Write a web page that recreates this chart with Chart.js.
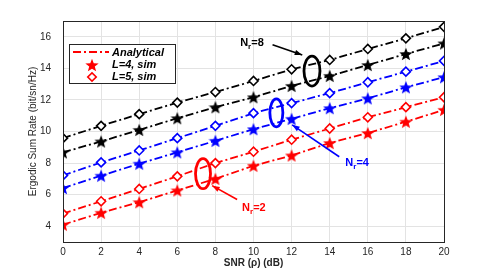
<!DOCTYPE html>
<html>
<head>
<meta charset="utf-8">
<script src="https://cdn.jsdelivr.net/npm/chart.js@4.4.1/dist/chart.umd.min.js"></script>
<style>
  html, body { margin: 0; padding: 0; background: #fff; }
  canvas { display: block; }
</style>
</head>
<body>
<canvas id="rateChart" width="491" height="273"></canvas>
<script>
// data
const snr = [0, 2, 4, 6, 8, 10, 12, 14, 16, 18, 20];
const yTicks = [4, 6, 8, 10, 12, 14, 16];

const nr2L4 = [4.1, 4.85, 5.52, 6.27, 7.0, 7.83, 8.48, 9.27, 9.9, 10.62, 11.37];
const nr2L5 = [4.8, 5.58, 6.36, 7.16, 8.0, 8.72, 9.48, 10.19, 10.9, 11.54, 12.17];
const nr4L4 = [6.42, 7.2, 7.96, 8.68, 9.41, 10.15, 10.8, 11.48, 12.1, 12.8, 13.44];
const nr4L5 = [7.22, 8.04, 8.8, 9.58, 10.36, 11.16, 11.8, 12.43, 13.12, 13.79, 14.47];
const nr8L4 = [8.68, 9.37, 10.1, 10.84, 11.54, 12.17, 12.89, 13.52, 14.21, 14.91, 15.58];
const nr8L5 = [9.58, 10.36, 11.1, 11.83, 12.5, 13.2, 13.94, 14.53, 15.23, 15.9, 16.63];

const RED = '#ff0000', BLUE = '#0000ff', BLACK = '#000000';
const DASHDOT = [8, 3, 2, 3];
const FONT = '"Liberation Sans", Arial, sans-serif';

// filled five point star as point image
function makeStar(color, size) {
    const c = document.createElement('canvas');
    c.width = size; c.height = size;
    const g = c.getContext('2d');
    const cx = size / 2, cy = size / 2 + 0.7, R = size / 2, r = R * 0.42;
    g.beginPath();
    for (let i = 0; i < 10; i++) {
        const rad = i % 2 ? r : R;
        const a = -Math.PI / 2 + i * Math.PI / 5;
        g.lineTo(cx + rad * Math.cos(a), cy + rad * Math.sin(a));
    }
    g.closePath();
    g.fillStyle = color;
    g.fill();
    return c;
}

function starSet(data, color) {
    return {
        data: snr.map((x, i) => ({ x, y: data[i] })),
        borderColor: color, borderWidth: 1.8, borderDash: DASHDOT,
        pointStyle: makeStar(color, 14), pointRadius: 7,
        fill: false, tension: 0
    };
}
function diamondSet(data, color) {
    return {
        data: snr.map((x, i) => ({ x, y: data[i] })),
        borderColor: color, borderWidth: 1.8, borderDash: DASHDOT,
        pointStyle: 'rectRot', pointRadius: 4.5, pointBorderWidth: 1.6,
        pointBackgroundColor: '#fff', pointBorderColor: color,
        fill: false, tension: 0
    };
}

// ellipses, arrows, labels and legend
const notes = {
    id: 'notes',
    afterDraw(chart) {
        const { ctx, chartArea: a, scales: { x, y } } = chart;
        ctx.save();
        // axes box
        ctx.strokeStyle = '#262626';
        ctx.lineWidth = 1;
        ctx.strokeRect(a.left + 0.5, a.top + 0.5, a.right - a.left, a.bottom - a.top);

        function ellipse(dx, dy, rx, ry, color) {
            ctx.beginPath();
            ctx.ellipse(x.getPixelForValue(dx), y.getPixelForValue(dy), rx, ry, 0, 0, Math.PI * 2);
            ctx.strokeStyle = color; ctx.lineWidth = 2.8; ctx.setLineDash([]);
            ctx.stroke();
        }
        function arrow(x1, y1, x2, y2, color) {
            const px1 = x.getPixelForValue(x1), py1 = y.getPixelForValue(y1);
            const px2 = x.getPixelForValue(x2), py2 = y.getPixelForValue(y2);
            ctx.strokeStyle = color; ctx.fillStyle = color; ctx.lineWidth = 1.6;
            ctx.beginPath(); ctx.moveTo(px1, py1); ctx.lineTo(px2, py2); ctx.stroke();
            const ang = Math.atan2(py2 - py1, px2 - px1);
            ctx.beginPath();
            ctx.moveTo(px2, py2);
            ctx.lineTo(px2 - 8 * Math.cos(ang - 0.35), py2 - 8 * Math.sin(ang - 0.35));
            ctx.lineTo(px2 - 8 * Math.cos(ang + 0.35), py2 - 8 * Math.sin(ang + 0.35));
            ctx.closePath(); ctx.fill();
        }
        function nrLabel(dx, dy, n, color) {
            let px = x.getPixelForValue(dx), py = y.getPixelForValue(dy);
            ctx.fillStyle = color; ctx.textBaseline = 'middle'; ctx.textAlign = 'left';
            ctx.font = 'bold 11px ' + FONT;
            ctx.fillText('N', px, py);
            px += ctx.measureText('N').width;
            ctx.font = 'bold 8px ' + FONT;
            ctx.fillText('r', px, py + 4);
            px += ctx.measureText('r').width;
            ctx.font = 'bold 11px ' + FONT;
            ctx.fillText('=' + n, px, py);
        }

        ellipse(13.07, 13.83, 8, 15, BLACK);
        arrow(11.0, 15.5, 12.56, 14.85, BLACK);
        nrLabel(9.3, 15.6, 8, BLACK);

        ellipse(11.2, 11.18, 6.5, 14, BLUE);
        arrow(14.5, 8.4, 12.03, 10.42, BLUE);
        nrLabel(14.82, 8.0, 4, BLUE);

        ellipse(7.35, 7.33, 7.5, 15, RED);
        arrow(9.14, 5.69, 7.83, 6.57, RED);
        nrLabel(9.4, 5.15, 2, RED);

        // legend box
        const lx = 69, ly = 44, lw = 106, lh = 39;
        ctx.fillStyle = '#fff';
        ctx.fillRect(lx, ly, lw, lh);
        ctx.strokeStyle = '#262626'; ctx.lineWidth = 1;
        ctx.strokeRect(lx + 0.5, ly + 0.5, lw, lh);
        ctx.strokeStyle = RED; ctx.lineWidth = 1.8; ctx.setLineDash(DASHDOT);
        ctx.beginPath(); ctx.moveTo(lx + 4, ly + 8); ctx.lineTo(lx + 40, ly + 8); ctx.stroke();
        ctx.setLineDash([]);
        ctx.drawImage(makeStar(RED, 14), lx + 16, ly + 14);
        ctx.save();
        ctx.translate(lx + 23, ly + 33);
        ctx.rotate(Math.PI / 4);
        ctx.fillStyle = '#fff'; ctx.strokeStyle = RED; ctx.lineWidth = 1.6;
        ctx.fillRect(-3, -3, 6, 6);
        ctx.strokeRect(-3, -3, 6, 6);
        ctx.restore();
        ctx.fillStyle = '#000'; ctx.textAlign = 'left'; ctx.textBaseline = 'middle';
        ctx.font = 'italic bold 11px ' + FONT;
        ctx.fillText('Analytical', lx + 43, ly + 8.5);
        ctx.fillText('L=4, sim', lx + 43, ly + 21);
        ctx.fillText('L=5, sim', lx + 43, ly + 33);
        ctx.restore();
    }
};

new Chart(document.getElementById('rateChart'), {
    type: 'line',
    data: {
        datasets: [
            starSet(nr2L4, RED), diamondSet(nr2L5, RED),
            starSet(nr4L4, BLUE), diamondSet(nr4L5, BLUE),
            starSet(nr8L4, BLACK), diamondSet(nr8L5, BLACK)
        ]
    },
    options: {
        responsive: false,
        animation: false,
        devicePixelRatio: 1,
        layout: { padding: { top: 21, right: 47, left: 0, bottom: 0 } },
        plugins: { legend: { display: false }, tooltip: { enabled: false } },
        scales: {
            x: {
                type: 'linear', min: 0, max: 20,
                afterBuildTicks: s => { s.ticks = snr.map(v => ({ value: v })); },
                afterFit: s => { s.height = 31; },
                grid: { color: '#e3e3e3', drawTicks: false },
                border: { color: '#262626' },
                ticks: { color: '#262626', padding: 4, font: { size: 10, family: FONT } },
                title: { display: true, text: 'SNR (ρ) (dB)', color: '#262626', padding: { top: 0 },
                         font: { size: 10, weight: 'bold', family: FONT } }
            },
            y: {
                min: 3, max: 17,
                afterBuildTicks: s => { s.ticks = yTicks.map(v => ({ value: v })); },
                afterFit: s => { s.width = 63; },
                grid: { color: '#e3e3e3', drawTicks: false },
                border: { color: '#262626' },
                ticks: { color: '#262626', padding: 12, font: { size: 10, family: FONT } },
                title: { display: true, text: 'Ergodic Sum Rate (bit/sn/Hz)', color: '#262626', padding: { top: 27, bottom: 0 },
                         font: { size: 10, family: FONT } }
            }
        }
    },
    plugins: [notes]
});
</script>
</body>
</html>
